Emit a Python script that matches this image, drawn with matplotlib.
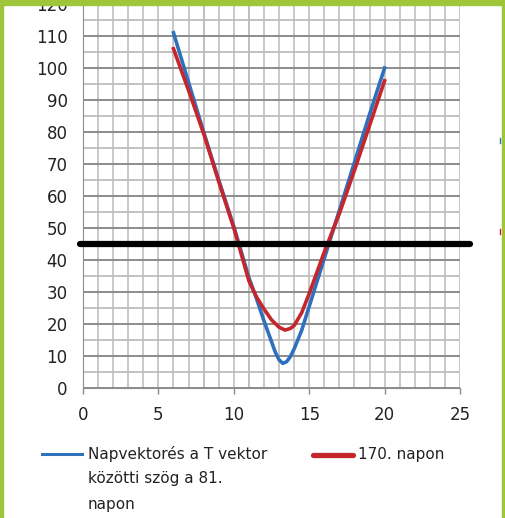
import matplotlib
matplotlib.use("Agg")
import matplotlib.pyplot as plt
from matplotlib.ticker import MultipleLocator
from matplotlib.lines import Line2D
from matplotlib.patches import Rectangle

# Óra (x) és szög (y) értékek
ora_81 = [6, 7, 8, 9, 10, 11, 11.5, 12, 12.5, 12.75, 13, 13.25, 13.5, 13.75, 14, 14.5, 15, 15.5,
          16, 17, 18, 19, 20]
szog_81 = [111, 95.5, 80, 65, 50.5, 34.5, 28, 21, 14.5, 11.2, 8.8, 7.7, 8.2, 9.8, 12.2, 18, 25.5, 33,
           40.5, 55.5, 70.5, 85.5, 100]

ora_170 = [6, 7, 8, 9, 10, 11, 11.5, 12, 12.5, 13, 13.4, 13.75, 14, 14.5, 15, 15.5, 16, 17, 18,
           19, 20]
szog_170 = [106, 93, 79.5, 64.5, 50, 33.5, 28.5, 24.7, 21.3, 19, 18.1, 18.6, 19.5, 23.5, 29.5, 36,
            42.5, 54.5, 68, 82, 96]

hatar = 45  # vízszintes fekete vonal

x_ticks = [0, 5, 10, 15, 20, 25]
y_ticks = list(range(0, 130, 10))

kek = "#2f70bd"
piros = "#c4262b"
zold = "#9fc63b"

W, H = 505, 518


def px(x, y):
    # pixel -> figure fraction
    return x / W, 1 - y / H


fig = plt.figure(figsize=(W / 100, H / 100), dpi=100)
ax = fig.add_axes([83 / W, 130 / H, 377 / W, 384 / H])

ax.set_xlim(0, 25)
ax.set_ylim(0, 120)
ax.set_xticks(x_ticks)
ax.set_yticks(y_ticks)
ax.xaxis.set_minor_locator(MultipleLocator(1))
ax.yaxis.set_minor_locator(MultipleLocator(5))

# rács
ax.grid(which="major", axis="x", color="#c4c4c4", lw=1.3)
ax.grid(which="minor", axis="x", color="#c4c4c4", lw=1.3)
ax.grid(which="major", axis="y", color="#8c8c8c", lw=1.4)
ax.grid(which="minor", axis="y", color="#bdbdbd", lw=1.3)
for xv in [8, 11]:
    ax.axvline(xv, color="#9a9a9a", lw=1.3, zorder=0.5)
ax.set_axisbelow(True)

for s in ["top", "right"]:
    ax.spines[s].set_visible(False)
ax.spines["left"].set_color("#8c8c8c")
ax.spines["bottom"].set_color("#8c8c8c")

ax.tick_params(axis="y", which="both", length=0, pad=11, labelsize=12, labelcolor="#222222")
ax.tick_params(axis="x", which="major", length=4, width=1, color="#8c8c8c", pad=9,
               labelsize=12, labelcolor="#222222")
ax.tick_params(axis="x", which="minor", length=0)

ax.plot(ora_81, szog_81, color=kek, lw=2.6, zorder=3, solid_joinstyle="round")
ax.plot(ora_170, szog_170, color=piros, lw=2.6, zorder=4, solid_joinstyle="round")

ax.plot([-0.2, 25.65], [hatar, hatar], color="black", lw=4.5,
        solid_capstyle="round", clip_on=False, zorder=5)

# jelmagyarázat kézzel
fig.add_artist(Line2D([px(42, 0)[0], px(82, 0)[0]], [px(0, 454)[1]] * 2, color=kek, lw=2.2))
fig.text(*px(88, 454), "Napvektorés a T vektor", va="center", fontsize=11, color="#222222")
fig.text(*px(88, 479), "közötti szög a 81.", va="center", fontsize=11, color="#222222")
fig.text(*px(88, 504), "napon", va="center", fontsize=11, color="#222222")
fig.add_artist(Line2D([px(313, 0)[0], px(353, 0)[0]], [px(0, 455)[1]] * 2, color=piros, lw=3.8,
                      solid_capstyle="round"))
fig.text(*px(358, 455), "170. napon", va="center", fontsize=11, color="#222222")

# apró színes jelek a jobb szélen
fig.add_artist(Line2D([px(500, 0)[0]] * 2, [px(0, 138)[1], px(0, 143)[1]], color=kek, lw=1))
fig.add_artist(Line2D([px(500, 0)[0]] * 2, [px(0, 229)[1], px(0, 234)[1]], color=piros, lw=1))

# zöld keret
fig.add_artist(Rectangle((0, 1 - 5 / H), 1, 5 / H, transform=fig.transFigure,
                         color=zold, zorder=10))
fig.add_artist(Rectangle((0, 0), 3 / W, 1, transform=fig.transFigure, color=zold, zorder=10))
fig.add_artist(Rectangle((1 - 3 / W, 0), 3 / W, 1, transform=fig.transFigure, color=zold, zorder=10))

fig.savefig("out.png", dpi=100, facecolor="white")
